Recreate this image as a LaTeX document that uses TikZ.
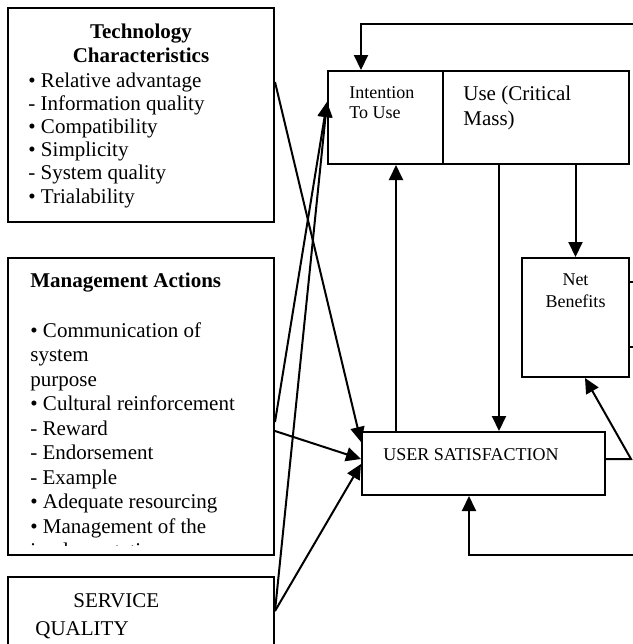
\documentclass[tikz,border=0pt]{standalone}
\usepackage{fontspec}
\setmainfont{Liberation Serif}
\usetikzlibrary{arrows.meta,calc}
\tikzset{
  box/.style={draw,line width=1pt,inner sep=0pt},
  txt/.style={anchor=base west,inner sep=0pt,font=\fontsize{10.5}{12}\selectfont},
  small/.style={txt,font=\fontsize{9}{11}\selectfont},
  link/.style={line width=1pt,-{Triangle[length=7.5pt,width=7pt]}},
  wire/.style={line width=1pt},
}
\begin{document}
\begin{tikzpicture}[x=0.5pt,y=-0.5pt]
\path[use as bounding box,clip] (0,0) rectangle (633,644);

% boxes on the left
\node[box,minimum width=133pt,minimum height=107pt] (tech) at (141,115) {};
\node[box,minimum width=133pt,minimum height=148.5pt] (mgmt) at (141,406.5) {};
\node[box,minimum width=133pt,minimum height=61.5pt] (serv) at (141,638.5) {};

% boxes on the right
\node[box,minimum width=57.5pt,minimum height=46.5pt] (intent) at (385.5,117.5) {};
\node[box,minimum width=93pt,minimum height=46.5pt] (use) at (536,117.5) {};
\node[box,minimum width=53.5pt,minimum height=59.5pt] (net) at (575.5,317.5) {};
\node[box,minimum width=121.5pt,minimum height=31.5pt] (us) at (483.5,463.5) {};

% texts of the left boxes
\begin{scope}
  \clip (8,8) rectangle (274,208);
  \node[txt,anchor=base,font=\bfseries\fontsize{10.5}{12}\selectfont] (techtitle) at (141,38) {Technology};
  \node[txt,anchor=base,font=\bfseries\fontsize{10.5}{12}\selectfont] (techtitleb) at (141,62) {Characteristics};
  \foreach \item [count=\i from 0] in {• Relative advantage,- Information quality,• Compatibility,• Simplicity,- System quality,• Trialability}
    \node[txt] (tech\i) at (28,87+23.2*\i) {\item};
\end{scope}

\begin{scope}
  \clip (8,258) rectangle (274,545);
  \node[txt,font=\bfseries\fontsize{10.5}{12}\selectfont] (mgmttitle) at (30,287) {Management Actions};
  \foreach \item [count=\i from 0] in {• Communication of,system,purpose,• Cultural reinforcement,- Reward,- Endorsement,- Example,• Adequate resourcing,• Management of the,implementation}
    \node[txt] (mgmt\i) at (30,337+24.5*\i) {\item};
\end{scope}

\node[txt] (servtext) at (73,607) {SERVICE};
\node[txt] (servtextb) at (35,635) {QUALITY};

% texts of the right boxes
\node[small] (intenttext) at (349,98) {Intention};
\node[small] (intenttextb) at (349,118) {To Use};
\node[txt] (usetext) at (463,100) {Use (Critical};
\node[txt] (usetextb) at (463,125) {Mass)};
\node[small,anchor=base] (nettext) at (575.5,285) {Net};
\node[small,anchor=base] (nettextb) at (575.5,307) {Benefits};
\node[small] (ustext) at (383,460) {USER SATISFACTION};

% feedback loops
\coordinate (fbtop) at (650,24);
\coordinate (fbbot) at (650,555);
\draw[link] (fbtop) -| ($(intent.north west)+(34,0)$);
\draw[link] (fbbot) -| ($(us.south west)+(108,0)$);
\draw[wire] ($(net.north east)+(0,25)$) -- ++(20,0);
\draw[wire] ($(net.north east)+(0,90)$) -- ++(20,0);

% links on the right
\draw[link] ($(us.north west)+(35,0)$) -- ($(intent.south west)+(69,0)$);
\draw[link] ($(use.south west)+(57,0)$) -- ($(us.north west)+(138,0)$);
\draw[link] (net.north |- use.south) -- (net.north);
\draw[link] ($(us.north east)+(0,28)$) -- ++(25,0) -- ($(net.south)+(9.5,0)$);

% links from the left
\draw[link] ($(tech.north east)+(0,75)$) -- ($(us.north west)+(0,11)$);
\draw[link] ($(mgmt.north east)+(0,165)$) -- ($(intent.north west)+(0,32)$);
\draw[link] ($(serv.north east)+(0,35)$) -- ($(intent.north west)+(0,32)$);
\draw[link] ($(mgmt.north east)+(0,174)$) -- ($(us.north west)+(0,28)$);
\draw[link] ($(serv.north east)+(0,35)$) -- ($(us.north west)+(0,33)$);
\end{tikzpicture}
\end{document}
